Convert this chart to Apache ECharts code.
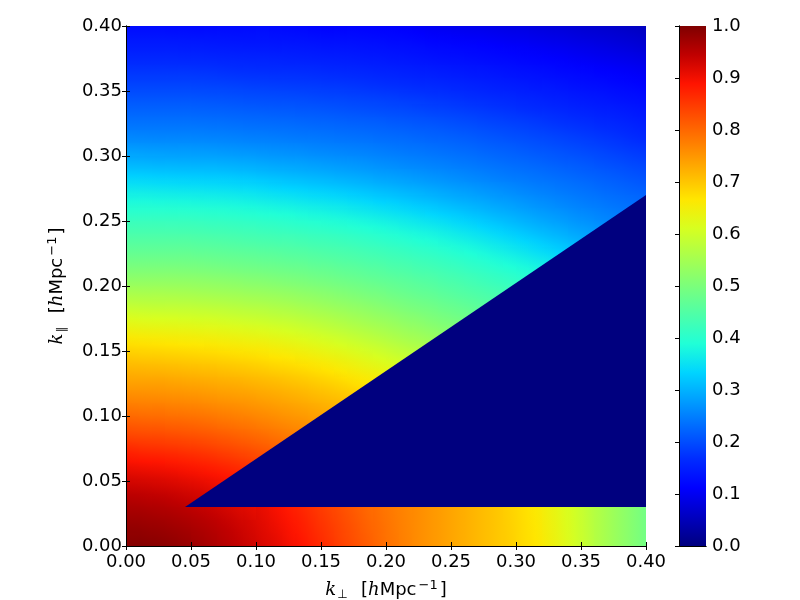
<!DOCTYPE html>
<html>
<head>
<meta charset="utf-8">
<title>k_perp k_par</title>
<style>
  html, body { margin: 0; background: #fff; }
  #chart { width: 800px; height: 600px; }
</style>
<script src="https://cdn.jsdelivr.net/npm/echarts@6/dist/echarts.min.js"></script>
</head>
<body>
<div id="chart"></div>
<script>
// cell size in k, 40 x 40 cells over 0 - 0.4
const cellSize = 0.01
const kTicks = { min: 0, max: 0.4, step: 0.05 }
const barTicks = { min: 0, max: 1, step: 0.1 }

// values, in hundredths. rows go up from k_par = 0,
// a row that stops early is dark (0) for the rest of its cells
const rows = [
  [99,99,99,98,98,97,96,95,94,93,92,91,90,89,87,86,84,83,81,80,78,77,76,75,74,73,72,71,70,69,68,67,65,64,60,58,56,54,52,50],
  [98,98,98,97,97,96,96,95,94,93,92,91,89,88,86,85,83,82,81,79,78,77,76,75,74,73,72,71,70,69,68,67,65,64,60,58,56,54,52,50],
  [97,97,97,96,96,95,95,94,93,92,91,90,89,87,86,85,83,82,80,79,78,77,76,75,74,73,72,71,70,69,68,66,65,63,60,58,56,54,52,50],
  [96,96,95,95,95,94,93],
  [94,94,94,93,93,92,92,91],
  [92,92,91,91,91,90,89,89,88],
  [89,89,89,89,88,88,87,87,86,85,84],
  [87,86,86,86,86,85,84,84,83,82,81,81],
  [84,83,83,83,83,82,82,81,81,80,79,78,78,77],
  [81,80,80,80,80,79,79,79,78,78,77,77,76,75,75],
  [78,78,78,78,78,77,77,77,76,76,76,75,74,74,73,73,72],
  [76,76,76,76,76,75,75,75,74,74,74,73,73,72,72,71,70,70],
  [74,74,74,74,74,73,73,73,73,72,72,71,71,71,70,70,69,68,67,66],
  [72,72,72,72,71,71,71,71,71,70,70,70,69,69,68,67,66,66,65,64,63],
  [70,70,70,70,70,69,69,69,69,68,68,67,67,66,65,65,64,63,62,61,60,59,58],
  [68,68,67,67,67,67,66,66,66,65,65,64,64,63,63,62,61,60,59,58,58,57,55,55],
  [65,64,64,64,64,64,64,63,63,62,62,62,61,60,60,59,58,58,57,56,55,54,53,52,52,51],
  [62,62,61,61,61,61,60,60,60,60,59,59,59,58,57,56,56,55,54,53,52,52,51,50,50,49,48],
  [58,58,58,58,58,58,58,57,57,57,56,56,55,55,54,53,53,52,52,51,51,50,49,48,48,47,46,46,45],
  [55,55,55,55,55,55,54,54,54,53,53,53,52,52,52,51,51,50,50,49,48,48,47,47,46,45,45,44,43,43],
  [52,52,52,52,52,52,52,51,51,51,51,50,50,50,49,49,48,48,47,47,46,46,45,45,44,44,43,42,42,41,41,40],
  [50,50,50,50,50,49,49,49,49,49,48,48,48,47,47,47,46,46,45,45,44,44,43,43,42,42,41,41,40,39,39,38,37],
  [47,47,47,47,47,47,47,47,46,46,46,46,45,45,45,44,44,44,43,43,42,42,42,41,41,40,39,39,38,37,36,35,34,33,32],
  [45,45,45,45,45,45,45,44,44,44,44,44,43,43,43,43,42,42,41,41,41,40,40,39,38,38,37,36,35,34,33,33,32,31,30,29],
  [43,43,43,43,43,43,43,42,42,42,42,42,41,41,41,41,40,40,40,39,38,38,37,36,36,35,34,33,33,32,31,30,29,28,28,27,26,26],
  [41,41,41,41,41,41,41,40,40,40,40,39,39,39,39,38,38,37,37,36,36,35,34,34,33,33,32,31,30,30,29,28,27,27,26,26,25,25,24],
  [39,39,39,39,38,38,38,38,38,38,37,37,36,36,35,35,35,34,34,33,33,32,32,31,30,30,29,28,28,27,27,26,26,25,25,25,24,24,23,23],
  [35,35,35,35,35,35,35,35,35,34,34,34,33,33,33,32,32,31,31,30,30,29,29,28,28,27,27,27,26,26,25,25,25,24,24,23,23,23,22,22],
  [33,33,33,32,32,32,32,32,32,31,31,31,30,30,30,29,29,29,28,28,27,27,27,26,26,26,25,25,25,24,24,24,23,23,23,22,22,21,21,21],
  [30,30,29,29,29,29,29,29,29,28,28,28,28,27,27,27,27,26,26,26,26,25,25,25,25,24,24,24,23,23,23,22,22,22,21,21,21,20,19,19],
  [27,27,27,27,27,27,27,27,26,26,26,26,26,26,25,25,25,25,25,25,24,24,24,24,23,23,23,22,22,22,21,21,21,20,20,19,19,19,18,18],
  [25,25,25,25,25,25,25,25,25,25,25,25,24,24,24,24,24,24,23,23,23,23,22,22,22,22,21,21,21,20,20,20,19,19,18,18,18,17,17,16],
  [24,24,24,24,24,24,24,23,23,23,23,23,23,23,23,22,22,22,22,22,22,21,21,21,21,20,20,20,19,19,19,18,18,17,17,17,16,16,15,15],
  [22,22,22,22,22,22,22,22,22,22,22,21,21,21,21,21,21,21,20,20,20,20,20,19,19,19,18,18,18,17,17,17,16,16,16,15,15,15,14,14],
  [21,21,21,21,21,21,21,20,20,20,20,20,20,20,20,19,19,19,19,19,18,18,18,18,17,17,17,16,16,16,16,15,15,15,14,14,14,14,13,13],
  [19,19,19,19,19,19,19,19,19,18,18,18,18,18,18,18,17,17,17,17,16,16,16,15,15,15,15,15,14,14,14,14,13,13,13,13,12,12,12,12],
  [17,17,17,17,17,17,17,17,17,17,17,17,17,16,16,16,16,16,16,15,15,15,15,15,15,14,14,14,14,13,13,13,13,12,12,12,11,11,11,10],
  [16,16,16,16,16,16,16,16,15,15,15,15,15,15,15,15,15,15,14,14,14,14,14,13,13,13,13,13,12,12,12,12,11,11,11,10,10,10,9,9],
  [15,15,15,15,15,14,14,14,14,14,14,14,14,14,14,14,13,13,13,13,13,13,12,12,12,12,12,11,11,11,11,10,10,10,9,9,9,9,8,8],
  [13,13,13,13,13,13,13,13,13,13,13,13,13,12,12,12,12,12,12,12,12,11,11,11,10,10,10,10,10,9,9,9,9,8,8,8,7,7,7,6]
]

// the masked wedge, in k units
const wedgeX = [0.0454, 0.4, 0.4]
const wedgeY = [0.03, 0.27, 0.03]

// jet, evenly spaced
const jet = ['#00007f', '#0000c0', '#0000ff', '#002bff', '#0063ff', '#009cff', '#00d4ff', '#20ffd7', '#4dffa9',
  '#7bff7b', '#a9ff4d', '#d7ff20', '#ffe600', '#ffb100', '#ff7c00', '#ff4900', '#ff1400', '#c00000', '#7f0000']

const cells = []
rows.forEach((row, j) => {
  rows.forEach((r, i) => {
    cells.push([i * cellSize, j * cellSize, (row[i] || 0) / 100, i, j])
  })
})

function valueAt(i, j) {
  const v = rows[j] ? rows[j][i] : undefined
  return v === undefined ? null : v
}

// plane through the cells around (i, j), so whole-number rounding doesn't mottle the fill
function fitPlane(i, j) {
  let n = 0, sx = 0, sy = 0, sxx = 0, sxy = 0, syy = 0, sv = 0, sxv = 0, syv = 0
  for (let dj = -2; dj <= 2; dj++) {
    for (let di = -2; di <= 2; di++) {
      const v = valueAt(i + di, j + dj)
      if (v === null) continue
      n++; sx += di; sy += dj
      sxx += di * di; sxy += di * dj; syy += dj * dj
      sv += v; sxv += di * v; syv += dj * v
    }
  }
  const det = n * (sxx * syy - sxy * sxy) - sx * (sx * syy - sxy * sy) + sy * (sx * sxy - sxx * sy)
  if (Math.abs(det) < 1e-6) {
    return { v: valueAt(i, j), a: 0, b: 0 }
  }
  const v = (sv * (sxx * syy - sxy * sxy) - sx * (sxv * syy - sxy * syv) + sy * (sxv * sxy - sxx * syv)) / det
  const a = (n * (sxv * syy - sxy * syv) - sv * (sx * syy - sxy * sy) + sy * (sx * syv - sxv * sy)) / det
  const b = (n * (sxx * syv - sxv * sxy) - sx * (sx * syv - sxv * sy) + sv * (sx * sxy - sxx * sy)) / det
  return { v: v, a: a, b: b }
}

function jetColor(v) {
  return echarts.color.lerp(Math.max(0, Math.min(1, v / 100)), jet)
}

// fill of one cell, shaded along the local slope like an imshow with smoothing
function cellFill(i, j) {
  if (valueAt(i, j) === null) {
    return jet[0]
  }
  const p = fitPlane(i, j)
  const g = Math.hypot(p.a, p.b)
  if (g === 0) {
    return jetColor(p.v)
  }
  const span = Math.SQRT1_2
  const dx = p.a / g * span
  const dy = p.b / g * span
  return {
    type: 'linear',
    x: 0.5 - dx,
    y: 0.5 + dy,
    x2: 0.5 + dx,
    y2: 0.5 - dy,
    colorStops: [
      { offset: 0, color: jetColor(p.v - g * span) },
      { offset: 0.5, color: jetColor(p.v) },
      { offset: 1, color: jetColor(p.v + g * span) }
    ]
  }
}

const tickFont = { fontFamily: 'DejaVu Sans', fontSize: 18, color: '#000' }
const line = { show: true, lineStyle: { color: '#000', width: 1 } }
const nameRich = {
  k: { fontFamily: 'DejaVu Serif', fontStyle: 'italic', fontSize: 18, color: '#000' },
  sub: { fontFamily: 'DejaVu Sans', fontSize: 12, color: '#000', padding: [9, 0, 0, 1] },
  t: { fontFamily: 'DejaVu Sans', fontSize: 18, color: '#000' },
  sup: { fontFamily: 'DejaVu Sans', fontSize: 13, color: '#000', padding: [0, 2, 9, 2] }
}
const mainGrid = { left: 126, top: 26, width: 520, height: 520, outerBoundsMode: 'none' }
const barGrid = { left: 679, top: 26, width: 27, height: 520, outerBoundsMode: 'none' }

function kAxis(pos, isLabeled, margin, name, gap) {
  return {
    type: 'value',
    gridIndex: 0,
    position: pos,
    min: kTicks.min,
    max: kTicks.max,
    interval: kTicks.step,
    z: 10,
    splitLine: { show: false },
    axisLine: line,
    axisTick: { show: true, inside: true, length: 4, lineStyle: { color: '#000', width: 1 } },
    axisLabel: Object.assign({ show: isLabeled, margin: margin, formatter: v => v.toFixed(2) }, tickFont),
    name: name,
    nameLocation: 'middle',
    nameGap: gap,
    nameTextStyle: { rich: nameRich }
  }
}

function edgeAxis(pos) {
  return {
    type: 'value',
    gridIndex: 1,
    position: pos,
    min: 0,
    max: 1,
    z: 10,
    splitLine: { show: false },
    axisLine: line,
    axisTick: { show: false },
    axisLabel: { show: false }
  }
}

const chart = echarts.init(document.getElementById('chart'), null, { renderer: 'canvas' })
chart.setOption({
  animation: false,
  backgroundColor: '#fff',
  grid: [mainGrid, barGrid],
  xAxis: [
    kAxis('bottom', true, 7, '{k|k}{sub|⊥}    {t|[}{k|h}{t|Mpc}{sup|−1}{t|]}', 33),
    kAxis('top', false),
    edgeAxis('bottom'),
    edgeAxis('top')
  ],
  yAxis: [
    kAxis('left', true, 4, '{k|k}{sub|∥}    {t|[}{k|h}{t|Mpc}{sup|−1}{t|]}', 58),
    kAxis('right', false),
    edgeAxis('left'),
    {
      type: 'value',
      gridIndex: 1,
      position: 'right',
      min: barTicks.min,
      max: barTicks.max,
      interval: barTicks.step,
      z: 10,
      splitLine: { show: false },
      axisLine: line,
      axisTick: { show: true, inside: true, length: 4, lineStyle: { color: '#000', width: 1 } },
      axisLabel: Object.assign({ margin: 6, formatter: v => v.toFixed(1) }, tickFont)
    }
  ],
  series: [
    {
      type: 'custom',
      xAxisIndex: 0,
      yAxisIndex: 0,
      silent: true,
      progressive: 0,
      z: 2,
      data: cells,
      renderItem(params, api) {
        const p0 = api.coord([api.value(0), api.value(1)])
        const p1 = api.coord([api.value(0) + cellSize, api.value(1) + cellSize])
        const x = Math.round(p0[0])
        const y = Math.round(p1[1])
        return {
          type: 'rect',
          shape: { x: x, y: y, width: Math.round(p1[0]) - x, height: Math.round(p0[1]) - y },
          style: { fill: cellFill(api.value(3), api.value(4)) }
        }
      }
    },
    {
      type: 'custom',
      xAxisIndex: 0,
      yAxisIndex: 0,
      silent: true,
      z: 3,
      data: wedgeX.map((x, i) => [x, wedgeY[i]]),
      renderItem(params, api) {
        if (params.dataIndex !== 0) {
          return
        }
        return {
          type: 'polygon',
          shape: { points: wedgeX.map((x, i) => api.coord([x, wedgeY[i]])) },
          style: { fill: jet[0] }
        }
      }
    },
    {
      // colorbar, one rect in its own grid
      type: 'custom',
      xAxisIndex: 2,
      yAxisIndex: 2,
      silent: true,
      z: 2,
      data: [[barTicks.min, barTicks.max]],
      renderItem(params, api) {
        const p0 = api.coord([0, barTicks.min])
        const p1 = api.coord([1, barTicks.max])
        return {
          type: 'rect',
          shape: { x: p0[0], y: p1[1], width: p1[0] - p0[0], height: p0[1] - p1[1] },
          style: {
            fill: {
              type: 'linear',
              x: 0,
              y: 1,
              x2: 0,
              y2: 0,
              colorStops: jet.map((c, i) => ({ offset: i / (jet.length - 1), color: c }))
            }
          }
        }
      }
    }
  ]
})
</script>
</body>
</html>
